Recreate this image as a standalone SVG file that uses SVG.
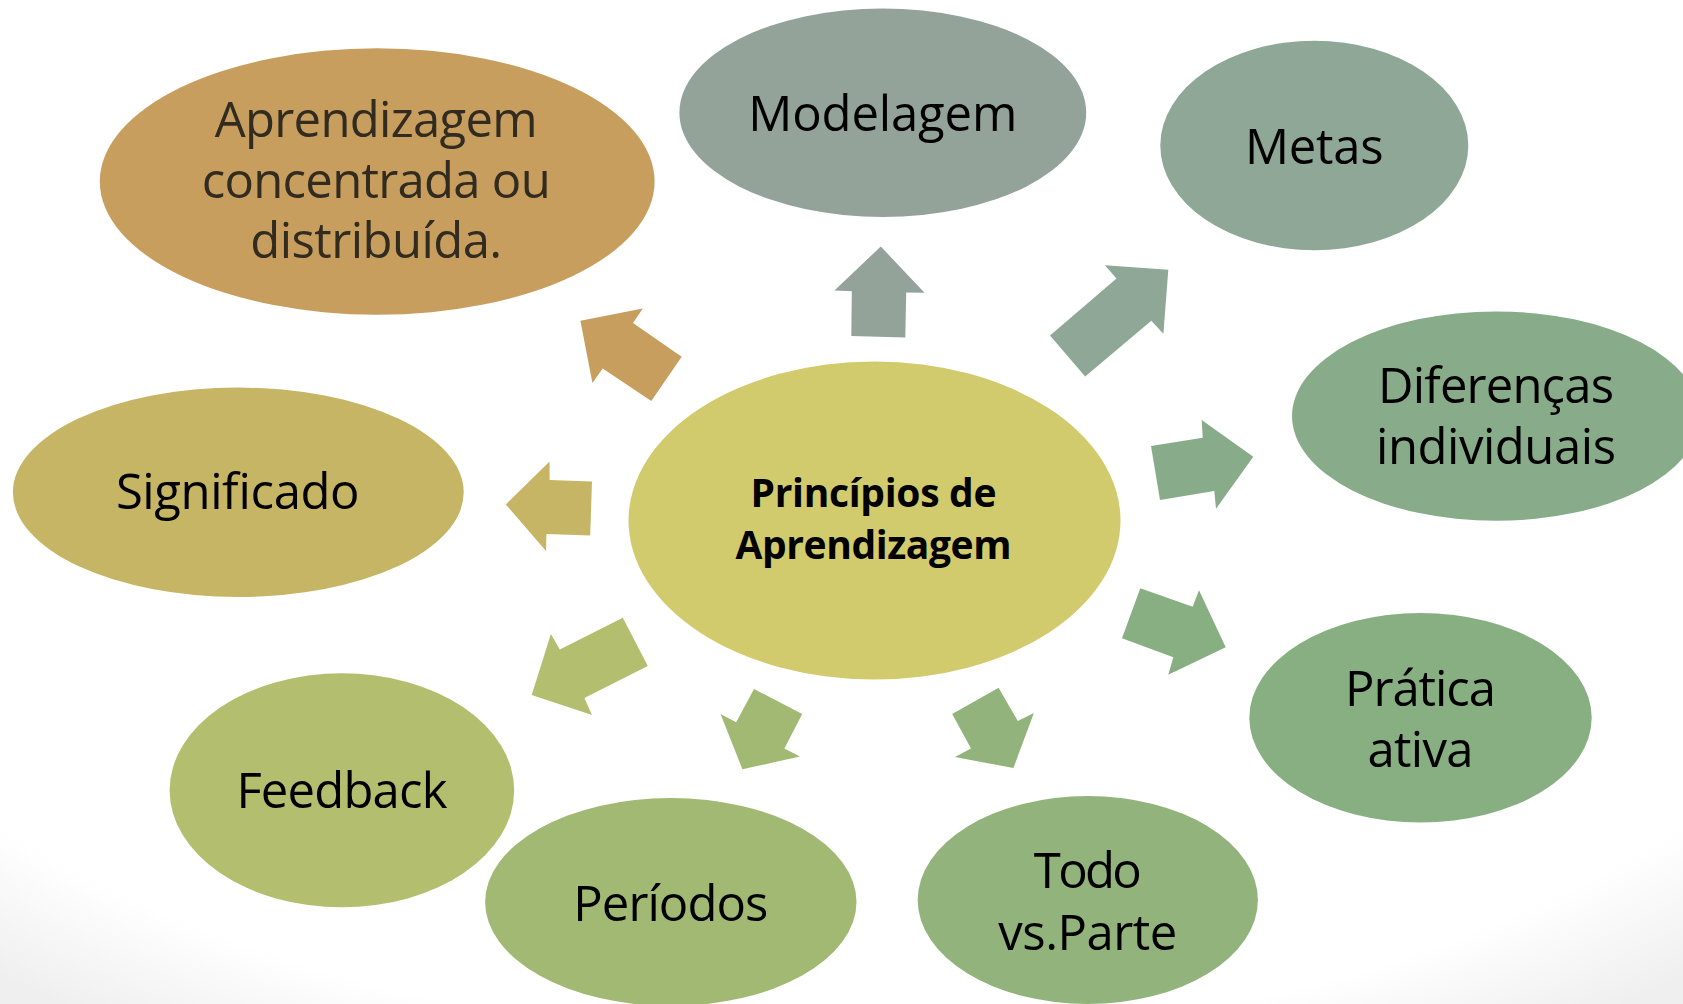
<svg xmlns="http://www.w3.org/2000/svg" width="1683" height="1004" viewBox="0 0 1683 1004">
<defs>
<radialGradient id="bg" cx="50%" cy="35%" r="80%">
<stop offset="0.86" stop-color="#ffffff"/>
<stop offset="1" stop-color="#efefef"/>
</radialGradient>
</defs>
<style>
.lbl{font-family:"Open Sans","Noto Sans",sans-serif;font-size:49px;fill:#000;text-anchor:middle}
.dark{fill:#312b20}
.ctr{font-family:"Open Sans","Noto Sans",sans-serif;font-size:39px;font-weight:bold;fill:#000;text-anchor:middle}
</style>
<rect x="0" y="0" width="1683" height="1004" fill="url(#bg)"/>
<g id="connectors">
<polygon fill="#C89E5E" points="580.4,320.7 642.8,308.5 633,323 681.7,356.7 651.3,401 602.7,368.5 592.4,383.1"/>
<polygon fill="#94A39A" points="880.8,246.5 834.4,290.5 851.8,291.2 851.3,336 905.3,337.5 906.2,292.4 924.5,292.8"/>
<polygon fill="#8FA796" points="1104.9,265.2 1168.3,269.8 1163.4,333.7 1151.3,320.7 1085.2,376.6 1050,335.6 1116.5,278.6"/>
<polygon fill="#88AC8A" points="1151,446 1202.7,437.7 1201.7,420 1253.3,456.7 1216,508.7 1214.3,491 1160,500"/>
<polygon fill="#88AF82" points="1140.3,588.3 1192.7,606.7 1199,590.3 1225.7,647.3 1168.3,674.7 1173.3,657.3 1122,638.3"/>
<polygon fill="#92B47C" points="998.6,687.7 1017.8,721 1033.9,713 1013.4,768.1 954.9,757 971,748.6 952.2,714.1"/>
<polygon fill="#A2B974" points="754,688.9 802.2,714.1 784.4,748.6 800,756.6 742.4,769.2 720.5,714.1 736.2,722.2"/>
<polygon fill="#B4BE6F" points="622.8,617.7 647.8,665.9 584.4,698 592,714.9 531.7,695 550.9,634.1 559.8,649.4"/>
<polygon fill="#C5B564" points="549.6,461.5 505.8,504.4 546,551 546.4,533.9 590.2,535.4 592,481.4 549.6,479.9"/>
</g>
<g id="node-aprendizagem">
<ellipse cx="377.2" cy="181.5" rx="277.4" ry="133.2" fill="#C89E5E"/>
<text class="lbl dark" x="376.2" y="136.7" textLength="323">Aprendizagem</text>
<text class="lbl dark" x="376.2" y="197.7" textLength="349">concentrada ou</text>
<text class="lbl dark" x="376.2" y="258.3" textLength="252">distribuída.</text>
</g>
<g id="node-modelagem">
<ellipse cx="882.8" cy="112.7" rx="203.4" ry="104.2" fill="#94A39A"/>
<text class="lbl" x="882.8" y="131" textLength="269">Modelagem</text>
</g>
<g id="node-metas">
<ellipse cx="1314.3" cy="145.5" rx="154" ry="104.7" fill="#8FA796"/>
<text class="lbl" x="1314.3" y="164.3" textLength="138.5">Metas</text>
</g>
<g id="node-diferencas">
<ellipse cx="1496" cy="416.1" rx="204" ry="104.7" fill="#88AC8A"/>
<text class="lbl" x="1496" y="402.7" textLength="236">Diferenças</text>
<text class="lbl" x="1496" y="463.9" textLength="240">individuais</text>
</g>
<g id="node-pratica">
<ellipse cx="1420.5" cy="717.8" rx="171.2" ry="104.7" fill="#88AF82"/>
<text class="lbl" x="1420.5" y="705.5" textLength="151">Prática</text>
<text class="lbl" x="1420.5" y="766.7" textLength="106">ativa</text>
</g>
<g id="node-todo">
<ellipse cx="1087.8" cy="900" rx="170.1" ry="104" fill="#92B47C"/>
<text class="lbl" x="1087.8" y="888" textLength="108">Todo</text>
<text class="lbl" x="1087.8" y="950.3" textLength="179">vs.Parte</text>
</g>
<g id="node-periodos">
<ellipse cx="670.8" cy="902" rx="185.7" ry="104" fill="#A2B974"/>
<text class="lbl" x="670.8" y="921.3" textLength="195">Períodos</text>
</g>
<g id="node-feedback">
<ellipse cx="341.9" cy="790.3" rx="172.3" ry="117" fill="#B4BE6F"/>
<text class="lbl" x="341.9" y="807.5" textLength="211">Feedback</text>
</g>
<g id="node-significado">
<ellipse cx="238.3" cy="492.3" rx="225.4" ry="104.7" fill="#C5B564"/>
<text class="lbl" x="237.7" y="509" textLength="243.6">Significado</text>
</g>
<g id="node-center">
<ellipse cx="874.5" cy="520.5" rx="246" ry="159" fill="#D2CB6D"/>
<text class="ctr" x="873.5" y="506.7" textLength="246">Princípios de</text>
<text class="ctr" x="873.5" y="559.3" textLength="276">Aprendizagem</text>
</g>
</svg>
